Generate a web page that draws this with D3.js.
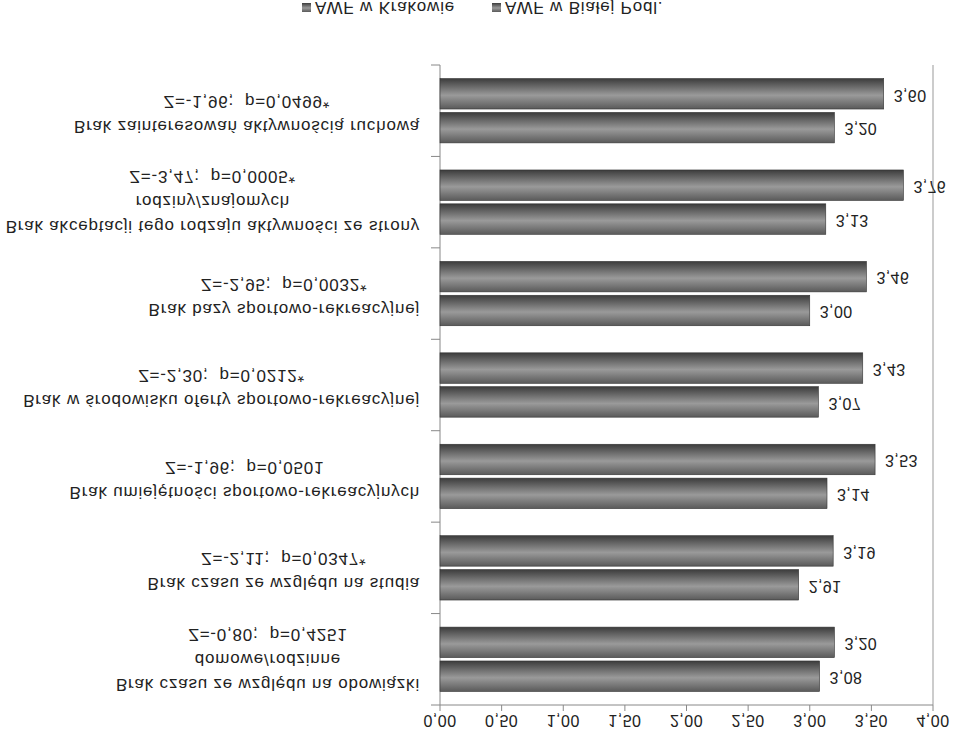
<!DOCTYPE html>
<html><head><meta charset="utf-8">
<script src="https://cdn.jsdelivr.net/npm/d3@7"></script>
<style>
  body { margin: 0; background: #fff; }
  svg { transform: scaleY(-1); font-family: "Liberation Sans", Arial, sans-serif; }
  text { white-space: pre; }
</style></head>
<body>
<script>
// categories, top to bottom in upright chart
var categories = [
  ['Brak czasu ze względu na obowiązki', 'domowe/rodzinne'],
  ['Brak czasu ze względu na studia'],
  ['Brak umiejętności sportowo-rekreacyjnych'],
  ['Brak w środowisku oferty sportowo-rekreacyjnej'],
  ['Brak bazy sportowo-rekreacyjnej'],
  ['Brak akceptacji tego rodzaju aktywności ze strony', 'rodziny/znajomych'],
  ['Brak zainteresowań aktywnością ruchową']
];
var stats = ['Z=-0,80;  p=0,4251', 'Z=-2,11;  p=0,0347*', 'Z=-1,96;  p=0,0501',
  'Z=-2,30;  p=0,0212*', 'Z=-2,95;  p=0,0032*', 'Z=-3,47;  p=0,0005*', 'Z=-1,96;  p=0,0499*'];
var seriesNames = ['AWF w Krakowie', 'AWF w Białej Podl.'];
var krakow = [3.20, 3.19, 3.53, 3.43, 3.46, 3.76, 3.60];
var biala = [3.08, 2.91, 3.14, 3.07, 3.00, 3.13, 3.20];
var ticks = [0, 0.5, 1, 1.5, 2, 2.5, 3, 3.5, 4];

var W = 954, H = 739;
var svg = d3.select('body').append('svg').attr('width', W).attr('height', H);
var fmt = function(v) { return v.toFixed(2).replace('.', ','); };

var grad = svg.append('defs').append('linearGradient').attr('id', 'bg')
    .attr('x1', 0).attr('y1', 0).attr('x2', 0).attr('y2', 1);
grad.append('stop').attr('offset', '0%').attr('stop-color', '#5a5a5a');
grad.append('stop').attr('offset', '45%').attr('stop-color', '#9a9a9a');
grad.append('stop').attr('offset', '100%').attr('stop-color', '#3c3c3c');

var x = d3.scaleLinear().domain([0, 4]).range([440, 933]);
var y = d3.scaleBand().domain(d3.range(categories.length)).range([34, 674]);
var inner = d3.scaleBand().domain([0, 1]).range([0, y.bandwidth()]).paddingInner(0.1).paddingOuter(0.4);

// frame lines
svg.append('line').attr('x1', 933).attr('x2', 933).attr('y1', 34).attr('y2', 674)
    .attr('stroke', '#999');
svg.append('line').attr('x1', 440).attr('x2', 440).attr('y1', 34).attr('y2', 674)
    .attr('stroke', '#888');
svg.append('line').attr('x1', 440).attr('x2', 933).attr('y1', 34).attr('y2', 34)
    .attr('stroke', '#888');
// category ticks
svg.selectAll('.ct').data(d3.range(categories.length + 1)).enter().append('line')
    .attr('x1', 431).attr('x2', 440)
    .attr('y1', function(i) { return 34 + i * y.step(); })
    .attr('y2', function(i) { return 34 + i * y.step(); })
    .attr('stroke', '#888');
// value axis ticks + labels
svg.selectAll('.vt').data(ticks).enter().append('line')
    .attr('x1', x).attr('x2', x).attr('y1', 28).attr('y2', 34).attr('stroke', '#888');
svg.selectAll('.vl').data(ticks).enter().append('text')
    .attr('x', x).attr('y', 20).attr('text-anchor', 'middle').attr('dominant-baseline', 'middle')
    .attr('font-size', 16).attr('letter-spacing', 0.5).attr('fill', '#222').text(fmt);

var series = [biala, krakow];
series.forEach(function(vals, s) {
  var g = svg.append('g');
  g.selectAll('rect').data(vals).enter().append('rect')
      .attr('x', x(0))
      .attr('y', function(d, i) { return y(i) + inner(s); })
      .attr('width', function(d) { return x(d) - x(0); })
      .attr('height', inner.bandwidth())
      .attr('fill', 'url(#bg)').attr('stroke', '#333').attr('stroke-width', 0.6);
  g.selectAll('text').data(vals).enter().append('text')
      .attr('x', function(d) { return x(d) + 10; })
      .attr('y', function(d, i) { return y(i) + inner(s) + inner.bandwidth() / 2; })
      .attr('dominant-baseline', 'middle').attr('font-size', 16).attr('letter-spacing', 0.4)
      .attr('fill', '#222').text(fmt);
});

// category labels: block right-aligned at 420, lines centred in block
categories.forEach(function(lines, i) {
  var all = lines.concat([stats[i]]);
  var start = lines.length > 1 ? 22 : 31;
  var t = svg.selectAll(null).data(all).enter().append('text')
      .attr('y', function(d, k) { return y(i) + start + k * 25; })
      .attr('text-anchor', 'middle').attr('dominant-baseline', 'middle')
      .attr('font-size', 17).attr('letter-spacing', 0.8).attr('fill', '#222')
      .text(function(d) { return d; });
  var maxW = d3.max(t.nodes(), function(n) { return n.getComputedTextLength(); });
  t.attr('x', 420 - maxW / 2);
});

// legend (partly cut at bottom edge, as in the reference)
var lx = [302, 492];
seriesNames.forEach(function(n, i) {
  svg.append('rect').attr('x', lx[i]).attr('y', 727).attr('width', 9).attr('height', 9)
      .attr('fill', 'url(#bg)');
  svg.append('text').attr('x', lx[i] + 13).attr('y', 737).attr('font-size', 17)
      .attr('letter-spacing', 0.8).attr('fill', '#222').text(n);
});
</script>
</body></html>
